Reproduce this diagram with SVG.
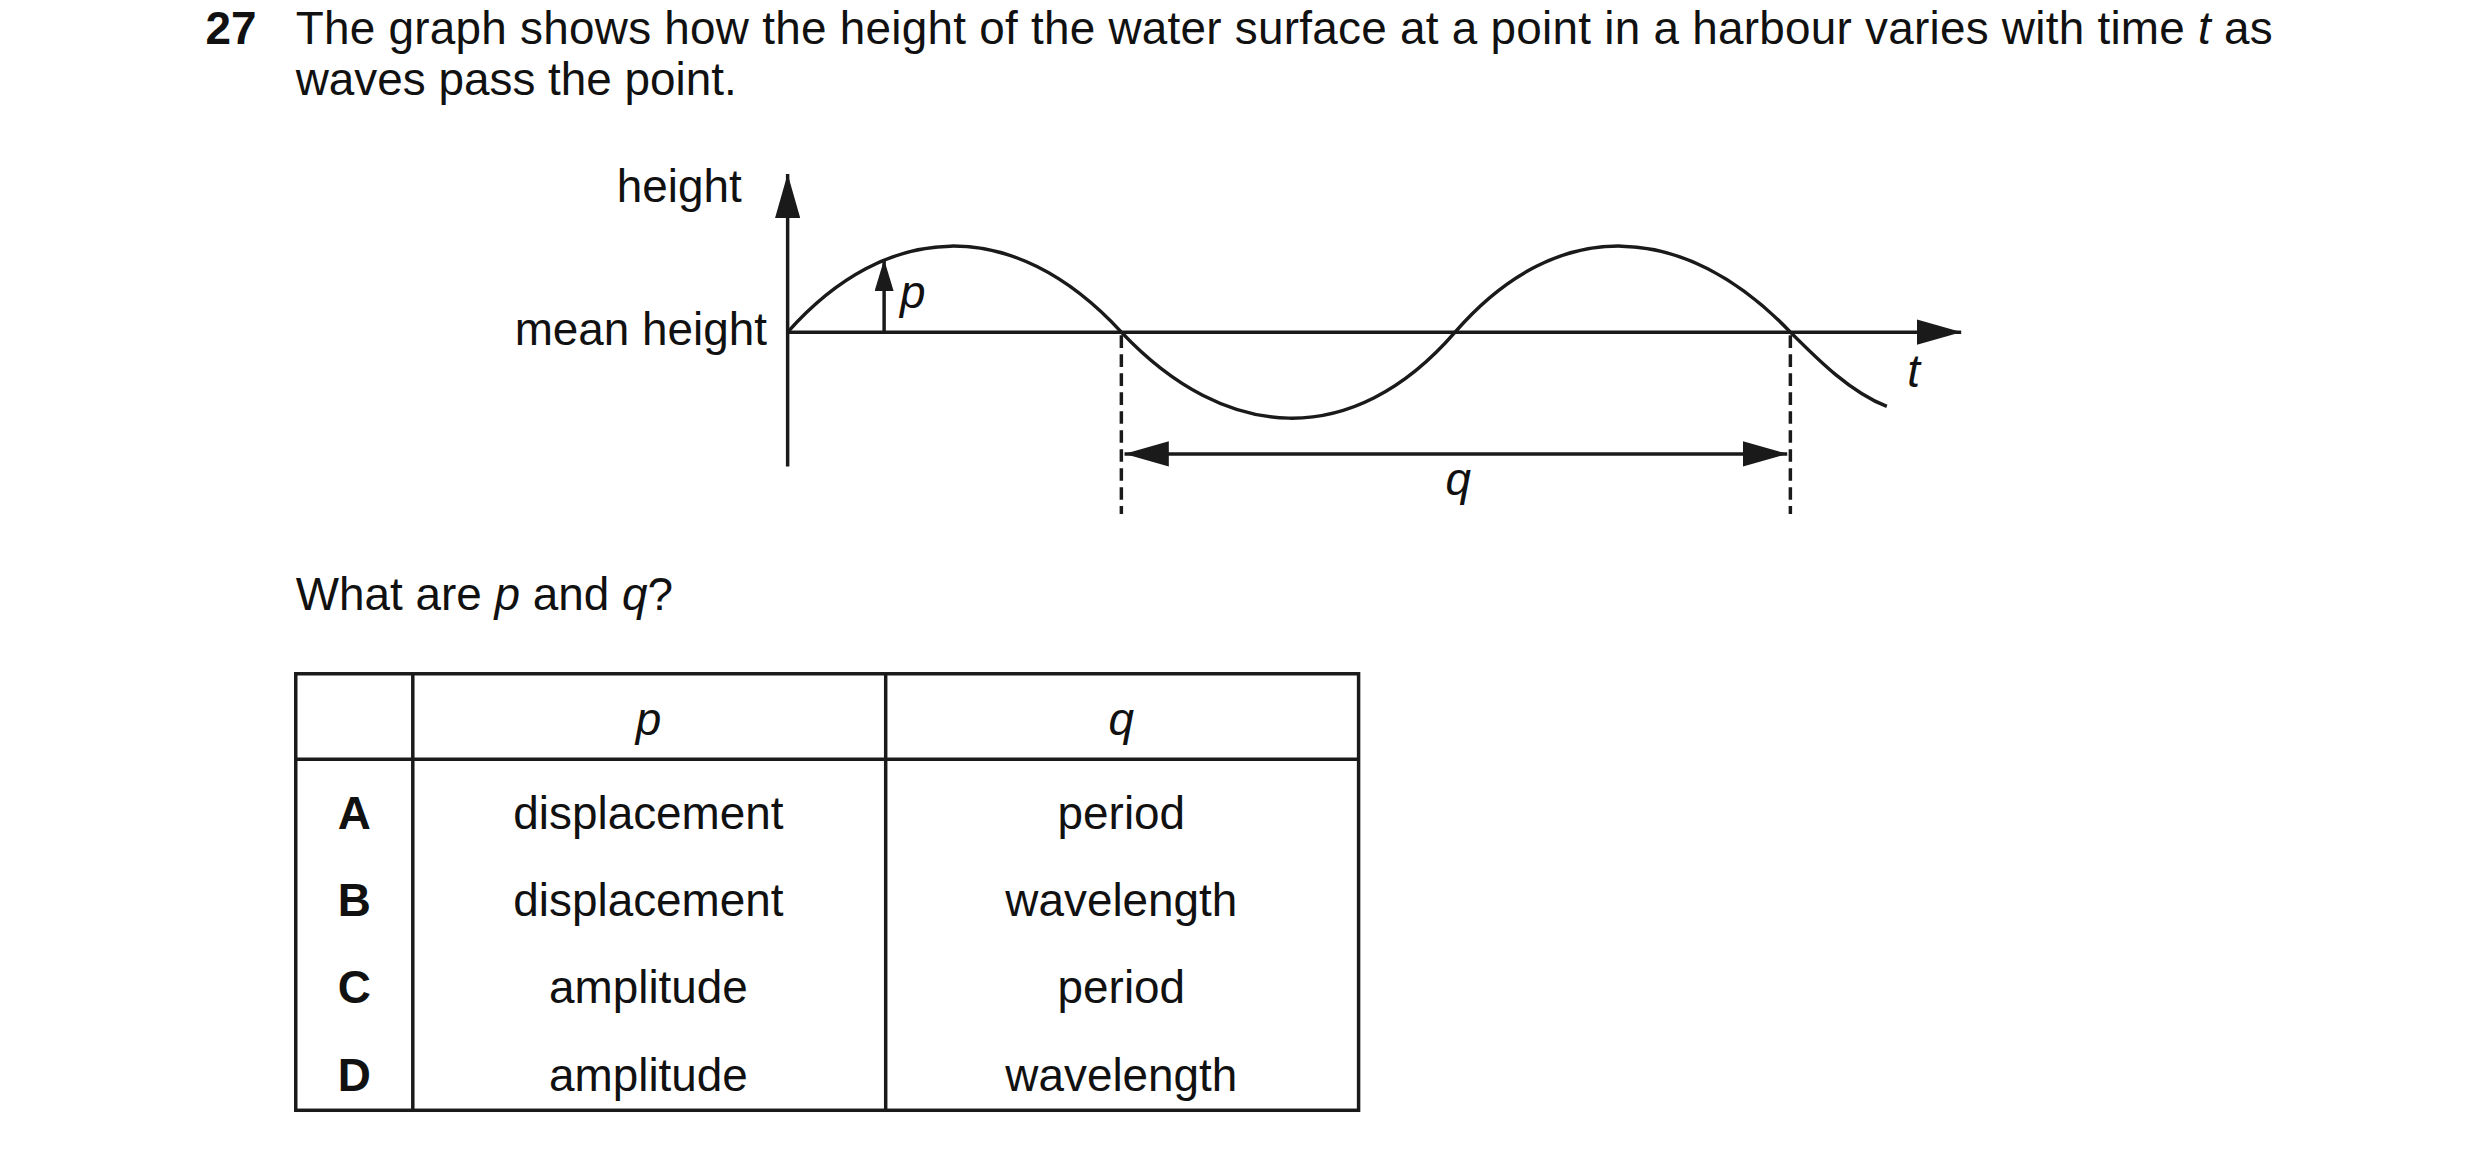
<svg xmlns="http://www.w3.org/2000/svg" width="2480" height="1152" viewBox="0 0 2480 1152">
<defs>
<marker id="ah" viewBox="0 0 28 16" refX="28" refY="8" markerWidth="28" markerHeight="16" markerUnits="userSpaceOnUse" orient="auto-start-reverse"><path d="M0,0 L28,8 L0,16 Z" fill="#1a1a1a"/></marker>
<marker id="ahs" viewBox="0 0 20 12" refX="20" refY="6" markerWidth="20" markerHeight="12" markerUnits="userSpaceOnUse" orient="auto"><path d="M0,0 L20,6 L0,12 Z" fill="#1a1a1a"/></marker>
<style>
text{font-family:"Liberation Sans",Arial,sans-serif;font-size:29px;fill:#111}
.b{font-weight:bold}
.i{font-style:italic}
.m{text-anchor:middle}
.r{text-anchor:end}
.ln{stroke:#1a1a1a;fill:none;stroke-width:2.2}
</style>
</defs>
<rect width="2480" height="1152" fill="#fff"/>
<g transform="scale(1.5816)">
<g id="question">
<text x="130" y="28" class="b">27</text>
<text x="187" y="28" textLength="1250" lengthAdjust="spacing">The graph shows how the height of the water surface at a point in a harbour varies with time <tspan class="i">t</tspan> as</text>
<text x="187" y="60">waves pass the point.</text>
<text x="187" y="386">What are <tspan class="i">p</tspan> and <tspan class="i">q</tspan>?</text>
</g>
<g id="graph">
<text x="469" y="128" class="r">height</text>
<text x="485" y="218" class="r">mean height</text>
<line class="ln" x1="498" y1="295" x2="498" y2="110" marker-end="url(#ah)"/>
<line class="ln" stroke-width="2.6" x1="498" y1="210" x2="1240" y2="210" marker-end="url(#ah)"/>
<path class="ln" stroke-width="2.8" d="M498,210 C560,140 640,135 709,210 C775,280 855,285 920,210 C985,135 1065,140 1132,210 C1150,228 1170,248 1193,257"/>
<line class="ln" x1="559" y1="210" x2="559" y2="164" marker-end="url(#ahs)"/>
<text x="569" y="195" class="i">p</text>
<line class="ln" stroke-width="1.2" stroke-dasharray="8,4" x1="709" y1="212" x2="709" y2="325"/>
<line class="ln" stroke-width="1.2" stroke-dasharray="8,4" x1="1132" y1="212" x2="1132" y2="325"/>
<line class="ln" stroke-width="2.8" x1="711" y1="287" x2="1130" y2="287" marker-start="url(#ah)" marker-end="url(#ah)"/>
<text x="922" y="313" class="i m">q</text>
<text x="1210" y="245" class="i m">t</text>
</g>
<g id="table">
<rect class="ln" stroke-width="1.5" x="187" y="426" width="672" height="276"/>
<line class="ln" stroke-width="1.5" x1="261" y1="426" x2="261" y2="702"/>
<line class="ln" stroke-width="1.5" x1="560" y1="426" x2="560" y2="702"/>
<line class="ln" stroke-width="1.5" x1="187" y1="480" x2="859" y2="480"/>
<text x="410" y="465" class="i m">p</text>
<text x="709" y="465" class="i m">q</text>
<text x="224" y="524" class="b m">A</text>
<text x="410" y="524" class="m">displacement</text>
<text x="709" y="524" class="m">period</text>
<text x="224" y="579" class="b m">B</text>
<text x="410" y="579" class="m">displacement</text>
<text x="709" y="579" class="m">wavelength</text>
<text x="224" y="634" class="b m">C</text>
<text x="410" y="634" class="m">amplitude</text>
<text x="709" y="634" class="m">period</text>
<text x="224" y="690" class="b m">D</text>
<text x="410" y="690" class="m">amplitude</text>
<text x="709" y="690" class="m">wavelength</text>
</g>
</g>
</svg>
